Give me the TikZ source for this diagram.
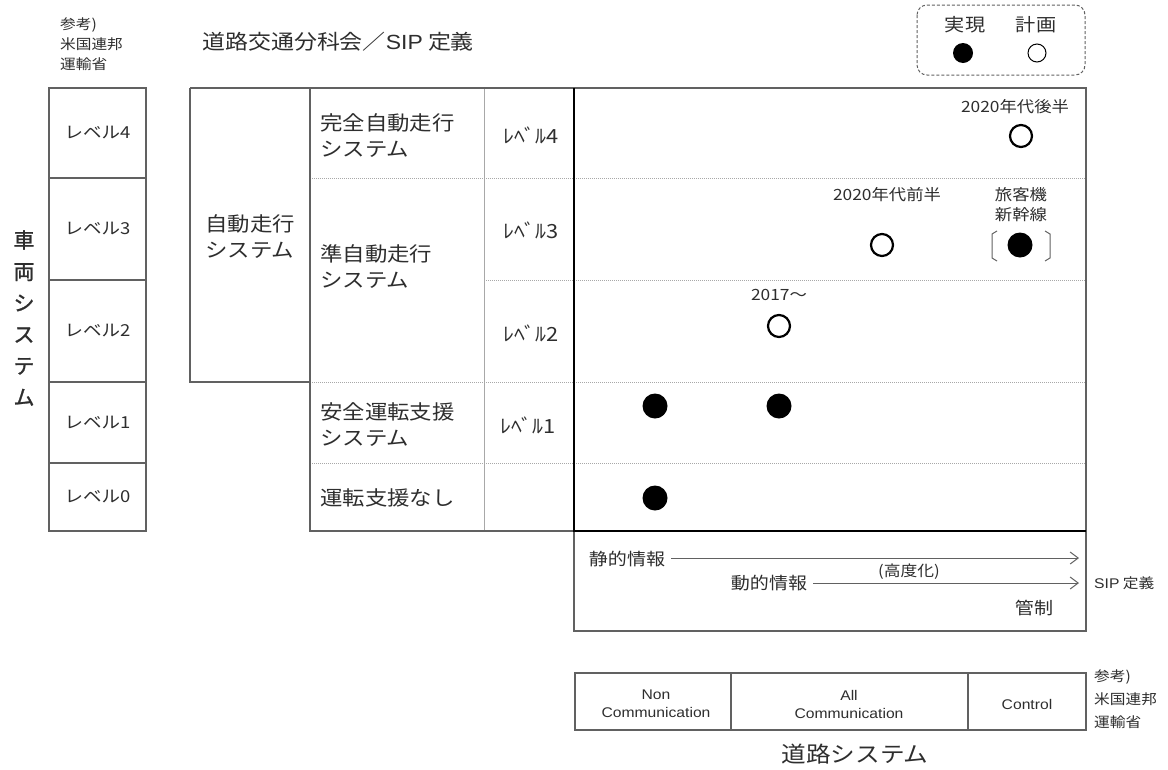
\documentclass[tikz,border=0pt]{standalone}
\usepackage{fontspec}
\setmainfont{Noto Sans CJK JP}[FakeStretch=1.12]
\newfontfamily\lat{Liberation Sans}[FakeStretch=1.12]
\newfontfamily\jpn{Noto Sans CJK JP}[FakeBold=1.2]
\usetikzlibrary{arrows.meta}
\definecolor{frm}{gray}{0.38}
\definecolor{dotc}{gray}{0.66}
\definecolor{txt}{gray}{0.18}
\newcommand{\fs}[2]{\fontsize{#1}{#2}\selectfont}
\tikzset{
  frame/.style={draw=frm, line width=1.3pt},
  thin/.style={draw=dotc, line width=0.9pt},
  dotline/.style={draw=dotc, line width=1pt, densely dotted},
  thick/.style={draw=black, line width=2.4pt},
  cell/.style={frame, anchor=north west, inner sep=0pt, outer sep=0pt, text=txt, font=\fs{16.5}{20}},
  lbl/.style={anchor=west, inner sep=0pt, align=left, text=txt, font=\fs{20}{26}},
  lvl/.style={inner sep=0pt, text=txt, font=\fs{19.5}{22}},
  note/.style={inner sep=0pt, align=center, text=txt, font=\fs{15.5}{20}},
  ref/.style={anchor=west, inner sep=0pt, align=left, text=txt, font=\fs{15}{20}},
  done/.style={circle, fill=black, inner sep=0pt, minimum size=25pt},
  plan/.style={circle, draw=black, line width=2.2pt, fill=white, inner sep=0pt, minimum size=22pt},
  arr/.style={draw=frm, line width=1pt, -{Straight Barb[length=8pt,width=12pt]}},
  brk/.style={draw=frm, line width=1pt},
  tcell/.style={anchor=center, inner sep=0pt, align=center, text=txt, font=\lat\fs{14}{18}}
}
\begin{document}
\begin{tikzpicture}[x=1pt,y=-1pt]
\useasboundingbox (0,0) rectangle (1168,769);
\fill[white] (0,0) rectangle (1168,769);

% ---- top-left reference and title
\node[ref, font=\fs{14}{20}] (refA) at (60,44) {参考)\\米国連邦\\運輸省};
\node[anchor=west, inner sep=0pt, text=txt, font=\fs{20.5}{24}] (title) at (202,42) {道路交通分科会／{\lat SIP} 定義};

% ---- legend
\draw[draw=frm, line width=1pt, densely dashed, rounded corners=10pt] (917,5) rectangle (1085,75);
\node[inner sep=0pt, text=txt, font=\fs{18}{20}] (lgA) at (965,25) {実現};
\node[inner sep=0pt, text=txt, font=\fs{18}{20}] (lgB) at (1036,25) {計画};
\node[circle, fill=black, inner sep=0pt, minimum size=20pt] (lgDone) at (963,53) {};
\node[circle, draw=black, line width=1pt, inner sep=0pt, minimum size=18pt] (lgPlan) at (1037,53) {};

% ---- left column (US DOT levels)
\node[cell, minimum width=97pt, minimum height=90pt] (L4) at (49,88) {レベル4};
\node[cell, minimum width=97pt, minimum height=102pt] (L3) at (49,178) {レベル3};
\node[cell, minimum width=97pt, minimum height=102pt] (L2) at (49,280) {レベル2};
\node[cell, minimum width=97pt, minimum height=81pt] (L1) at (49,382) {レベル1};
\node[cell, minimum width=97pt, minimum height=68pt] (L0) at (49,463) {レベル0};

% vertical label
\node[inner sep=0pt, align=center, text=txt, font=\jpn\fs{21}{31.4}] (veh) at (24,318) {車\\両\\シ\\ス\\テ\\ム};

% ---- main grid
% dotted row lines
\draw[dotline] (310,178) -- (1086,178);
\draw[dotline] (484,280) -- (1086,280);
\draw[dotline] (310,382) -- (1086,382);
\draw[dotline] (310,463) -- (1086,463);
% column divider
\draw[thin] (484,88) -- (484,531);
% frames
\draw[frame] (190,88) -- (1086,88) -- (1086,531);
\draw[frame] (190,88) -- (190,382) -- (310,382);
\draw[frame] (310,88) -- (310,531) -- (574,531);
\draw[frame] (574,531) rectangle (1086,631);
\draw[thick] (574,88) -- (574,531) -- (1086,531);

% row labels
\node[lbl] (auto) at (205,237) {自動走行\\システム};
\node[lbl] (full) at (320,136) {完全自動走行\\システム};
\node[lbl] (semi) at (320,267) {準自動走行\\システム};
\node[lbl] (safe) at (320,425) {安全運転支援\\システム};
\node[lbl] (none) at (320,498) {運転支援なし};

\node[lvl] (m4) at (531,135) {ﾚﾍﾞﾙ4};
\node[lvl] (m3) at (531,230) {ﾚﾍﾞﾙ3};
\node[lvl] (m2) at (531,333) {ﾚﾍﾞﾙ2};
\node[lvl] (m1) at (528,425) {ﾚﾍﾞﾙ1};

% ---- plot marks
\node[note] (t4) at (1015,107) {2020年代後半};
\node[plan] (p4) at (1021,136) {};
\node[note] (t3) at (887,195) {2020年代前半};
\node[plan] (p3) at (882,245) {};
\node[note] (t3b) at (1021,205) {旅客機\\新幹線};
\node[done] (d3) at (1020,245) {};
\draw[brk] (997,231) -- (992,234) -- (992,258) -- (997,261);
\draw[brk] (1045,231) -- (1050,234) -- (1050,258) -- (1045,261);
\node[note] (t2) at (779,295) {2017～};
\node[plan] (p2) at (779,326) {};
\node[done] (d1a) at (655,406) {};
\node[done] (d1b) at (779,406) {};
\node[done] (d0) at (655,498) {};

% ---- SIP road info box
\node[inner sep=0pt, text=txt, font=\fs{17}{20}] (stat) at (627,559) {静的情報};
\node[inner sep=0pt, text=txt, font=\fs{17}{20}] (dyn) at (769,583) {動的情報};
\coordinate (e1) at (1079,558);
\coordinate (e2) at (1079,583);
\draw[arr] ([xshift=6pt]stat.east |- e1) -- (e1);
\draw[arr] ([xshift=6pt]dyn.east |- e2) -- (e2);
\node[inner sep=0pt, text=txt, font=\fs{15}{18}] (adv) at (909,572) {(高度化)};
\node[inner sep=0pt, text=txt, font=\fs{17}{20}] (ctl) at (1034,608) {管制};
\node[anchor=west, inner sep=0pt, text=txt, font=\fs{14}{18}] (sipdef) at (1094,583) {{\lat SIP} 定義};

% ---- US DOT road classification
\draw[frame] (575,673) rectangle (1086,730);
\draw[frame] (731,673) -- (731,730);
\draw[frame] (968,673) -- (968,730);
\node[tcell] (nc) at (656,704) {Non\\Communication};
\node[tcell] (ac) at (849,704) {All\\Communication};
\node[tcell] (cc) at (1027,704) {Control};
\node[ref, font=\fs{14}{23}] (refB) at (1094,699) {参考)\\米国連邦\\運輸省};

\node[inner sep=0pt, text=txt, font=\fs{22}{24}] (road) at (855,754) {道路システム};
\end{tikzpicture}
\end{document}
